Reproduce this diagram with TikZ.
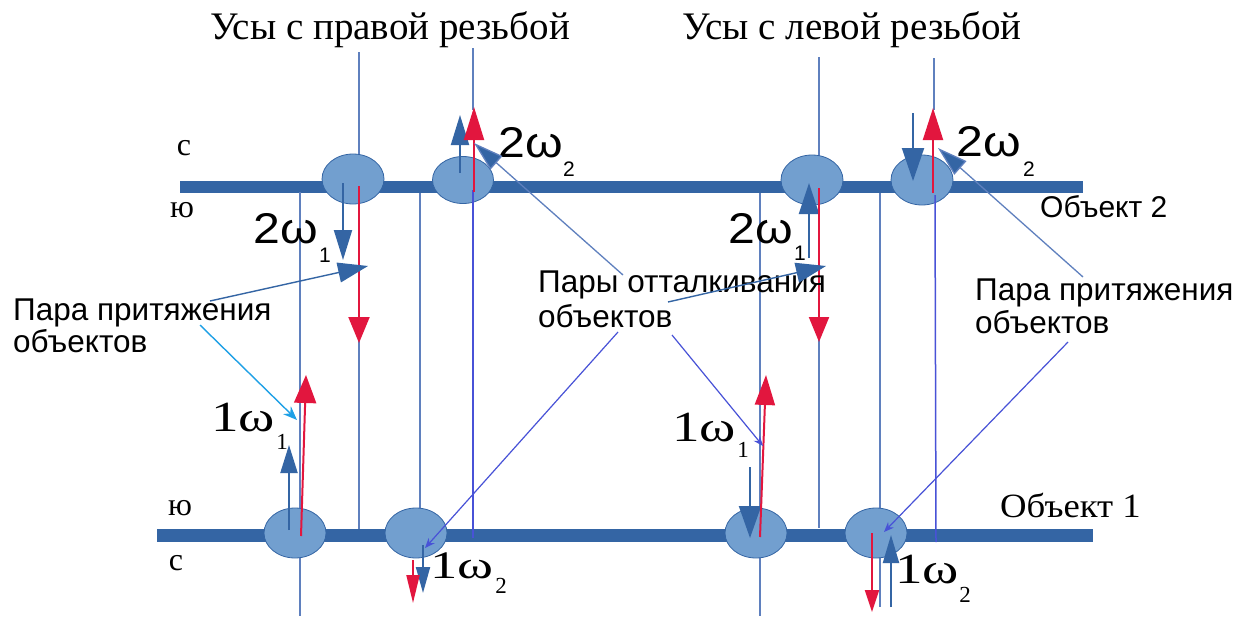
\documentclass[tikz,border=0pt]{standalone}
\usepackage{fontspec}
\setmainfont{Liberation Serif}
\newfontfamily\sansf{Liberation Sans}
\usetikzlibrary{arrows.meta,shapes.geometric}
\definecolor{barblue}{RGB}{52,101,164}
\definecolor{jointfill}{RGB}{114,159,207}
\definecolor{wireblue}{RGB}{95,128,190}
\definecolor{royal}{RGB}{72,82,215}
\definecolor{arrred}{RGB}{226,22,62}
\definecolor{leadcyan}{RGB}{30,160,230}
\newcommand{\wsans}[1]{\scalebox{1.12}[1]{#1}}
\newcommand{\wser}[1]{\scalebox{1.28}[1]{#1}}
\tikzset{
  barline/.style={draw=barblue, line width=12pt},
  joint/.style={ellipse, draw=barblue, line width=0.8pt, fill=jointfill, minimum width=62pt, minimum height=50pt, inner sep=0pt},
  wire/.style={draw=wireblue, line width=1.6pt},
  wireroyal/.style={draw=royal, line width=1.5pt},
  barr/.style 2 args={draw=barblue, line width=2pt, -{Triangle[length=#1pt, width=#2pt]}},
  rarr/.style 2 args={draw=arrred, line width=2pt, -{Triangle[length=#1pt, width=#2pt]}},
  leadbig/.style={draw=barblue, line width=1.4pt, -{Triangle[length=30pt, width=20pt]}},
  leadroyal/.style={draw=royal, line width=1.2pt, -{Stealth[length=10pt, width=8pt]}},
  leadcy/.style={draw=leadcyan, line width=1.4pt, -{Stealth[length=14pt, width=11pt]}},
  serifbig/.style={font=\fontsize{39}{42}\selectfont, inner sep=0pt},
  sidelab/.style={font=\fontsize{32}{34}\selectfont, inner sep=0pt},
  objlab/.style={inner sep=0pt},
  wlab/.style={font=\sansf\fontsize{43}{46}\selectfont, inner sep=0pt},
  wlabs/.style={font=\fontsize{43}{46}\selectfont, inner sep=0pt},
  subs/.style={font=\sansf\fontsize{21}{23}\selectfont, inner sep=0pt},
  subss/.style={font=\fontsize{23}{25}\selectfont, inner sep=0pt},
  note/.style={font=\sansf\fontsize{31.5}{34}\selectfont, inner sep=0pt, anchor=base west},
}
\begin{document}
\begin{tikzpicture}[x=1pt,y=-1pt]
\useasboundingbox (0,0) rectangle (1234,616);
\fill[white] (0,0) rectangle (1234,616);

% ---- bars (objects)
\coordinate (b2l) at (180,187); \coordinate (b2r) at (1083,187);
\coordinate (b1l) at (157,535); \coordinate (b1r) at (1093,535);
\draw[barline] (b2l) -- (b2r);
\draw[barline, line width=13pt] (b1l) -- (b1r);

% ---- wires (behind the joints)
\coordinate (w1a) at (300,192); \coordinate (w1b) at (300,616);
\coordinate (w2a) at (359,52);  \coordinate (w2b) at (359,156);
\coordinate (w2c) at (359,192); \coordinate (w2d) at (359,529);
\coordinate (w3a) at (420,193); \coordinate (w3b) at (420,512);
\coordinate (w4a) at (473,48);  \coordinate (w4b) at (473,110);
\coordinate (w5a) at (760,193); \coordinate (w5b) at (760,616);
\coordinate (w6a) at (819,57);  \coordinate (w6b) at (819,156);
\coordinate (w6c) at (819,192); \coordinate (w6d) at (819,528);
\coordinate (w7a) at (880,193); \coordinate (w7b) at (880,607);
\coordinate (w8a) at (934,58);  \coordinate (w8b) at (934,110);
\draw[wire] (w1a) -- (w1b);
\draw[wire] (w2a) -- (w2b);
\draw[wire] (w2c) -- (w2d);
\draw[wire] (w3a) -- (w3b);
\draw[wire] (w4a) -- (w4b);
\draw[wire] (w5a) -- (w5b);
\draw[wire] (w6a) -- (w6b);
\draw[wire] (w6c) -- (w6d);
\draw[wire] (w7a) -- (w7b);
\draw[wire] (w8a) -- (w8b);

% ---- joints
\node[joint] (A) at (353,179) {};
\node[joint, minimum width=61pt, minimum height=47pt] (B) at (463,180) {};
\node[joint] (C) at (812,180) {};
\node[joint] (D) at (922,180) {};
\node[joint] (E) at (295,533) {};
\node[joint] (F) at (416,533) {};
\node[joint] (G) at (756,533) {};
\node[joint] (H) at (876,533) {};

% royal wires drawn over joints
\coordinate (w4c) at (473,190); \coordinate (w4d) at (473,538);
\coordinate (w8c) at (935,195); \coordinate (w8d) at (936,542);
\draw[wireroyal] (w4c) -- (w4d);
\draw[wireroyal] (w8c) -- (w8d);

% ---- arrows, object 2
\coordinate (a1s) at (343,183); \coordinate (a1t) at (343,260);
\draw[barr={30}{18}] (a1s) -- (a1t);
\coordinate (r1s) at (359,186); \coordinate (r1t) at (359,343);
\draw[rarr={26}{21}] (r1s) -- (r1t);
\coordinate (a2s) at (460,173); \coordinate (a2t) at (460,115);
\draw[barr={30}{18}] (a2s) -- (a2t);
\coordinate (r2s) at (474,192); \coordinate (r2t) at (474,107);
\draw[rarr={33}{20}] (r2s) -- (r2t);
\coordinate (a3s) at (809,258); \coordinate (a3t) at (809,183);
\draw[barr={31}{20}] (a3s) -- (a3t);
\coordinate (r3s) at (819,188); \coordinate (r3t) at (819,342);
\draw[rarr={25}{20}] (r3s) -- (r3t);
\coordinate (a4s) at (913,113); \coordinate (a4t) at (913,181);
\draw[barr={33}{22}] (a4s) -- (a4t);
\coordinate (r4s) at (933,193); \coordinate (r4t) at (933,108);
\draw[rarr={32}{20}] (r4s) -- (r4t);

% ---- arrows, object 1
\coordinate (a5s) at (289,530); \coordinate (a5t) at (289,445);
\draw[barr={28}{17}] (a5s) -- (a5t);
\coordinate (r5s) at (301,536); \coordinate (r5t) at (306,375);
\draw[rarr={28}{22}] (r5s) -- (r5t);
\coordinate (a6s) at (750,467); \coordinate (a6t) at (750,538);
\draw[barr={32}{22}] (a6s) -- (a6t);
\coordinate (r6s) at (760,537); \coordinate (r6t) at (766,375);
\draw[rarr={30}{20}] (r6s) -- (r6t);
\coordinate (a7s) at (423,545); \coordinate (a7t) at (423,593);
\draw[barr={26}{14}] (a7s) -- (a7t);
\coordinate (r7s) at (413,560); \coordinate (r7t) at (413,603);
\draw[rarr={28}{13}] (r7s) -- (r7t);
\coordinate (a8s) at (891,607); \coordinate (a8t) at (891,535);
\draw[barr={28}{16}] (a8s) -- (a8t);
\coordinate (r8s) at (872,533); \coordinate (r8t) at (872,612);
\draw[rarr={22}{14}] (r8s) -- (r8t);

% ---- titles and object labels
\node[serifbig] (t1) at (390,30) {Усы с правой резьбой};
\node[serifbig] (t2) at (852,30) {Усы с левой резьбой};
\node[sidelab] (s2) at (184,148) {с};
\node[sidelab] (n2) at (182,210) {ю};
\node[sidelab] (n1) at (180,508) {ю};
\node[sidelab] (s1) at (176,563) {с};
\node[objlab, font=\sansf\fontsize{30}{32}\selectfont, anchor=west] (o2) at (1040,207) {Объект 2};
\node[objlab, font=\fontsize{34}{36}\selectfont, anchor=west] (o1) at (1000,505) {\scalebox{1.08}[1]{Объект 1}};

% ---- omega labels
\node[wlab] (l1) at (531,143) {\wsans{2ω}}; \node[subs] (l1s) at (569,169) {2};
\node[wlab] (l2) at (989,142) {\wsans{2ω}}; \node[subs] (l2s) at (1029,169) {2};
\node[wlab] (l3) at (286,229) {\wsans{2ω}}; \node[subs] (l3s) at (325,255) {1};
\node[wlab] (l4) at (761,229) {\wsans{2ω}}; \node[subs] (l4s) at (800,253) {1};
\node[wlabs] (l5) at (243,418) {\wser{1ω}}; \node[subss] (l5s) at (282,442) {1};
\node[wlabs] (l6) at (704,428) {\wser{1ω}}; \node[subss] (l6s) at (743,450) {1};
\node[wlabs, font=\fontsize{39}{42}\selectfont] (l7) at (462,566) {\scalebox{1.4}[1]{1ω}}; \node[subss] (l7s) at (501,586) {2};
\node[wlabs] (l8) at (927,570) {\wser{1ω}}; \node[subss] (l8s) at (965,595) {2};

% ---- notes
\node[note] (p1) at (13,320) {Пара притяжения};
\node[note] (p1b) at (13,352) {объектов};
\node[note] (p2) at (538,292) {Пары отталкивания};
\node[note] (p2b) at (538,327) {объектов};
\node[note] (p3) at (975,300) {Пара притяжения};
\node[note] (p3b) at (975,333) {объектов};

% ---- leaders
\coordinate (q1) at (210,301); \coordinate (q1t) at (368,266);
\draw[leadbig] (q1) -- (q1t);
\coordinate (q2) at (668,302); \coordinate (q2t) at (826,266);
\draw[leadbig] (q2) -- (q2t);
\coordinate (q3) at (623,275); \coordinate (q3t) at (474,143);
\draw[leadbig, draw=wireblue, line width=1.3pt, -{Triangle[length=30pt,width=18pt,fill=barblue]}] (q3) -- (q3t);
\coordinate (q4) at (1083,277); \coordinate (q4t) at (938,148);
\draw[leadbig, draw=wireblue, line width=1.3pt, -{Triangle[length=30pt,width=18pt,fill=barblue]}] (q4) -- (q4t);
\coordinate (q5) at (200,325); \coordinate (q5t) at (297,420);
\draw[leadcy] (q5) -- (q5t);
\coordinate (q6) at (618,332); \coordinate (q6t) at (425,548);
\draw[leadroyal] (q6) -- (q6t);
\coordinate (q7) at (672,335); \coordinate (q7t) at (763,446);
\draw[leadroyal] (q7) -- (q7t);
\coordinate (q8) at (1068,342); \coordinate (q8t) at (884,532);
\draw[leadroyal] (q8) -- (q8t);
\end{tikzpicture}
\end{document}
